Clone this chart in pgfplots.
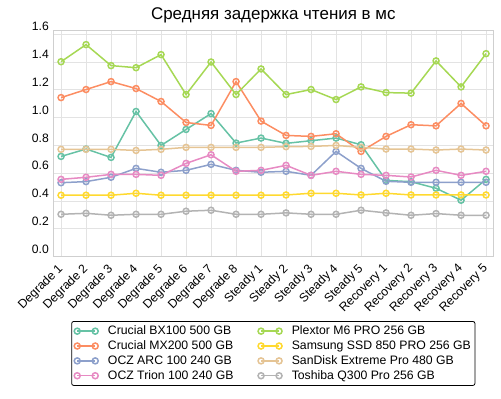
\documentclass[border=0pt]{standalone}
\usepackage{fontspec}
\setmainfont{Liberation Sans}
\usepackage{pgfplots}
\usepackage{pgfplotstable}
\pgfplotsset{compat=1.18}
\definecolor{c1}{HTML}{66C2A5}
\definecolor{c2}{HTML}{FC8D62}
\definecolor{c3}{HTML}{8DA0CB}
\definecolor{c4}{HTML}{E78AC3}
\definecolor{c5}{HTML}{A6D854}
\definecolor{c6}{HTML}{FFD92F}
\definecolor{c7}{HTML}{E5C494}
\definecolor{c8}{HTML}{B3B3B3}
\definecolor{gridc}{HTML}{E3E3E3}
\pgfplotstableread{
x  bx    mx    arc   trion plex  sam   sand  tosh
0  0.721 1.144 0.532 0.556 1.402 0.442 0.772 0.305
1  0.774 1.202 0.540 0.571 1.525 0.442 0.772 0.312
2  0.714 1.259 0.571 0.592 1.374 0.442 0.772 0.298
3  1.044 1.209 0.635 0.592 1.359 0.456 0.764 0.305
4  0.800 1.116 0.607 0.585 1.453 0.442 0.772 0.305
5  0.915 0.965 0.621 0.671 1.166 0.442 0.786 0.327
6  1.029 0.944 0.664 0.733 1.400 0.442 0.786 0.334
7  0.817 1.259 0.621 0.614 1.166 0.442 0.786 0.305
8  0.853 0.975 0.607 0.621 1.350 0.442 0.786 0.305
9  0.815 0.872 0.614 0.657 1.166 0.444 0.791 0.315
10 0.834 0.865 0.585 0.585 1.202 0.456 0.793 0.305
11 0.853 0.884 0.757 0.614 1.130 0.456 0.800 0.305
12 0.805 0.757 0.635 0.592 1.221 0.444 0.786 0.334
13 0.549 0.865 0.542 0.585 1.180 0.456 0.774 0.315
14 0.539 0.949 0.535 0.573 1.176 0.444 0.774 0.298
15 0.492 0.941 0.535 0.621 1.408 0.444 0.767 0.310
16 0.406 1.102 0.535 0.585 1.221 0.444 0.774 0.298
17 0.556 0.941 0.535 0.614 1.460 0.444 0.767 0.298
}\data
\pgfplotsset{
  ser/.style={#1, line width=1.5bp, mark=o, mark size=3bp, mark options={solid, fill=white, line width=1.5bp}},
}
\begin{document}
\begin{tikzpicture}
\path[use as bounding box] (-53.3bp,-142.3bp) rectangle (447.7bp,256.7bp);
\begin{axis}[
  at={(0,0)}, anchor=south west, scale only axis,
  width=440bp, height=226.7bp,
  xmin=-0.31, xmax=17.29, ymin=0, ymax=1.63,
  xtick={0,...,17},
  xticklabels={Degrade 1,Degrade 2,Degrade 3,Degrade 4,Degrade 5,Degrade 6,Degrade 7,Degrade 8,Steady 1,Steady 2,Steady 3,Steady 4,Steady 5,Recovery 1,Recovery 2,Recovery 3,Recovery 4,Recovery 5},
  ytick={0,0.2,0.4,0.6,0.8,1.0,1.2,1.4,1.6},
  yticklabel style={/pgf/number format/fixed, /pgf/number format/fixed zerofill, /pgf/number format/precision=1, /pgf/number format/assume math mode=true, yshift=7.5bp, xshift=-1bp},
  xticklabel style={xshift=-4bp, yshift=-4.5bp, rotate=45, anchor=north east, font=\fontsize{12.3}{14}\selectfont, inner sep=1bp},
  tick label style={font=\fontsize{12.2}{14}\selectfont},
  major tick length=0pt,
  grid=major, grid style={gridc, line width=0.8bp},
  axis line style={draw=gridc!80!gray, line width=0.8bp},
  title={Средняя задержка чтения в мс},
  title style={font=\fontsize{17}{20}\selectfont, at={(0.5,1)}, anchor=south, yshift=-3bp},
  legend columns=2,
  legend cell align=left,
  legend style={at={(0.5,-0.284)}, anchor=north, draw=black, rounded corners=2bp, line width=0.8bp,
    font=\fontsize{12.3}{14}\selectfont, inner xsep=2bp, inner ysep=2.5bp, row sep=0.5bp,
    /tikz/every even column/.append style={column sep=22bp}},
  legend image code/.code={\draw[mark repeat=1] plot coordinates {(1bp,0bp) (19bp,0bp)}; \path (-1.8bp,0bp) (29bp,0bp);},
]
\addplot[ser=c1, forget plot] table[x=x,y=bx]{\data};
\addplot[ser=c2, forget plot] table[x=x,y=mx]{\data};
\addplot[ser=c3, forget plot] table[x=x,y=arc]{\data};
\addplot[ser=c4, forget plot] table[x=x,y=trion]{\data};
\addplot[ser=c5, forget plot] table[x=x,y=plex]{\data};
\addplot[ser=c6, forget plot] table[x=x,y=sam]{\data};
\addplot[ser=c7, forget plot] table[x=x,y=sand]{\data};
\addplot[ser=c8, forget plot] table[x=x,y=tosh]{\data};
\addlegendimage{ser=c1}\addlegendentry{Crucial BX100 500 GB}
\addlegendimage{ser=c5}\addlegendentry{Plextor M6 PRO 256 GB}
\addlegendimage{ser=c2}\addlegendentry{Crucial MX200 500 GB}
\addlegendimage{ser=c6}\addlegendentry{Samsung SSD 850 PRO 256 GB}
\addlegendimage{ser=c3}\addlegendentry{OCZ ARC 100 240 GB}
\addlegendimage{ser=c7}\addlegendentry{SanDisk Extreme Pro 480 GB}
\addlegendimage{ser=c4}\addlegendentry{OCZ Trion 100 240 GB}
\addlegendimage{ser=c8}\addlegendentry{Toshiba Q300 Pro 256 GB}
\end{axis}
\end{tikzpicture}
\end{document}
